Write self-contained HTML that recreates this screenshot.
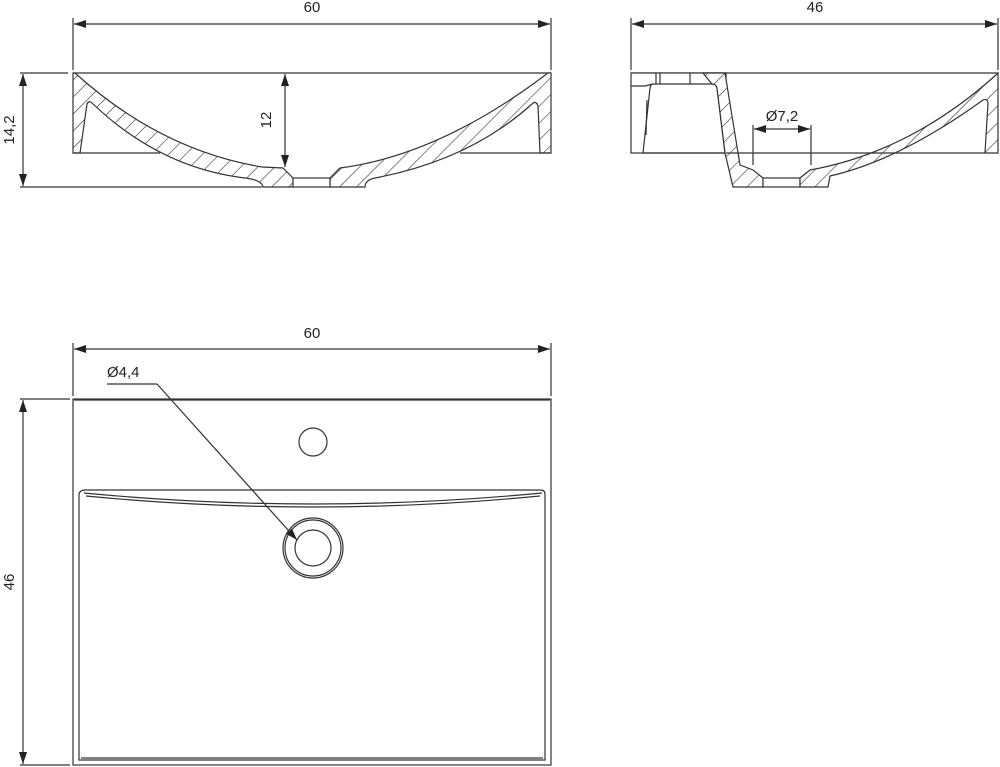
<!DOCTYPE html>
<html><head><meta charset="utf-8"><style>
html,body{margin:0;padding:0;background:#fff;}
svg{display:block;}
text{font-family:"Liberation Sans",sans-serif;font-size:15px;fill:#222;}
</style></head><body>
<svg width="1000" height="767" viewBox="0 0 1000 767" xmlns="http://www.w3.org/2000/svg">
<defs>
<pattern id="h" patternUnits="userSpaceOnUse" width="12" height="12" patternTransform="rotate(45)">
<rect width="12" height="12" fill="#fff"/><line x1="0" y1="0" x2="0" y2="12" stroke="#333" stroke-width="1.2"/>
</pattern>
<marker id="a" markerWidth="12" markerHeight="8" refX="12" refY="4" orient="auto" markerUnits="userSpaceOnUse">
<path d="M0,0 L12,4 L0,8 z" fill="#222"/></marker>
<marker id="s" markerWidth="12" markerHeight="8" refX="0" refY="4" orient="auto" markerUnits="userSpaceOnUse">
<path d="M12,0 L0,4 L12,8 z" fill="#222"/></marker>
</defs>
<g stroke="#333" stroke-width="1.2" fill="none">
<line x1="73" y1="18" x2="73" y2="70"/><line x1="551" y1="18" x2="551" y2="70"/>
<line x1="74" y1="24" x2="550" y2="24" marker-start="url(#s)" marker-end="url(#a)"/>
<line x1="20" y1="73" x2="68" y2="73"/><line x1="20" y1="187" x2="262" y2="187"/>
<line x1="23" y1="74" x2="23" y2="186" marker-start="url(#s)" marker-end="url(#a)"/>
<line x1="73" y1="73" x2="551" y2="73"/>
<path d="M73,73 L75,73 Q160,150 262,167 L283,168 L293,178 L293,187 L263,187 Q262,180 245,178 Q160,168 92,103 Q89,100 87,104 L80,153 L73,153 Z" fill="url(#h)"/>
<path d="M551,73 L548,73 Q440,155 340,168 L330,178 L330,187 L365,187 Q365,180 375,178 Q470,160 532,104 Q536,100 538,106 L540,153 L551,153 Z" fill="url(#h)"/>
<rect x="293" y="178" width="37" height="9" fill="#fff"/>
<line x1="73" y1="153" x2="160" y2="153"/><line x1="460" y1="153" x2="551" y2="153"/>
<line x1="285" y1="74" x2="285" y2="167" marker-start="url(#s)" marker-end="url(#a)"/>
<line x1="631" y1="18" x2="631" y2="70"/><line x1="998" y1="18" x2="998" y2="70"/>
<line x1="632" y1="24" x2="997" y2="24" marker-start="url(#s)" marker-end="url(#a)"/>
<line x1="631" y1="73" x2="998" y2="73"/>
<rect x="631" y="73" width="95" height="80" fill="#fff"/>
<path d="M653,84 L714,84 Q717,85 717,88 L725,153 L643,153 L650,88 Q651,84 653,84 Z"/>
<path d="M631,86 L645,86 L653,84 M656,73 L656,84 M660,73 L660,84 M690,73 L690,84 M647,100 L646,135"/>
<path d="M703,73 L725,73 L740,165 L753,170 L763,178 L763,187 L733,187 L725,153 L717,88 Q716,84 712,84 Z" fill="url(#h)"/>
<rect x="763" y="178" width="37" height="9" fill="#fff"/>
<path d="M800,178 L810,170 Q910,152 996,75 L998,73 L998,153 L985,153 L988,103 Q987,98 983,100 Q900,160 830,176 L828,187 L800,187 Z" fill="url(#h)"/>
<line x1="726" y1="153" x2="985" y2="153"/>
<line x1="753" y1="125" x2="753" y2="165"/><line x1="811" y1="125" x2="811" y2="165"/>
<line x1="754" y1="129" x2="810" y2="129" marker-start="url(#s)" marker-end="url(#a)"/>
<line x1="73" y1="343" x2="73" y2="396"/><line x1="551" y1="343" x2="551" y2="396"/>
<line x1="74" y1="349" x2="550" y2="349" marker-start="url(#s)" marker-end="url(#a)"/>
<line x1="20" y1="399" x2="70" y2="399"/><line x1="20" y1="765" x2="70" y2="765"/>
<line x1="23" y1="400" x2="23" y2="764" marker-start="url(#s)" marker-end="url(#a)"/>
<rect x="73" y="399" width="478" height="366"/>
<line x1="74" y1="400" x2="550" y2="400"/>
<path d="M79,760 L79,494 Q80,490 85,490 L540,490 Q545,490 545,494 L545,760 Z"/>
<path d="M84,493 Q313,515 542,493" />
<path d="M86,496 Q313,518 540,496" />
<line x1="81" y1="758" x2="543" y2="758"/>
<circle cx="313" cy="442" r="14"/>
<circle cx="313" cy="548" r="30"/><circle cx="313" cy="548" r="28"/><circle cx="313" cy="548" r="18"/>
<line x1="107" y1="384" x2="157" y2="384"/>
<line x1="157" y1="384" x2="297" y2="540" marker-end="url(#a)"/>
</g>
<text x="312" y="12" text-anchor="middle">60</text>
<text x="815" y="12" text-anchor="middle">46</text>
<text x="312" y="338" text-anchor="middle">60</text>
<text transform="translate(14,130) rotate(-90)" text-anchor="middle">14,2</text>
<text transform="translate(271,120) rotate(-90)" text-anchor="middle">12</text>
<text transform="translate(14,582) rotate(-90)" text-anchor="middle">46</text>
<text x="782" y="121" text-anchor="middle">Ø7,2</text>
<text x="107" y="377">Ø4,4</text>
</svg>
</body></html>
